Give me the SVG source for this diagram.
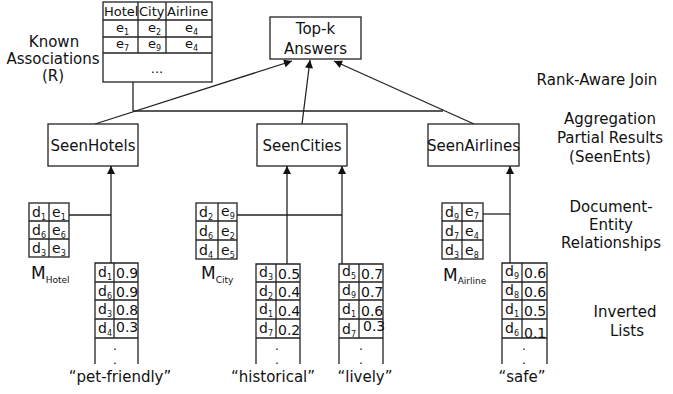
<svg xmlns="http://www.w3.org/2000/svg" width="673" height="394" viewBox="0 0 673 394">
<style>
text{font-family:"DejaVu Sans","Liberation Sans",sans-serif;fill:#111}
.box{fill:#fff;stroke:#222;stroke-width:1.3}
.ln{fill:none;stroke:#222;stroke-width:1.3}
.lbl{font-size:15px;text-anchor:middle}
.node{font-size:15px;text-anchor:middle}
.cell{font-size:14px}
.sub{font-size:8px}
.hdr{font-size:13px}
.q{font-size:15px;text-anchor:middle}
.dot{font-size:12px;text-anchor:middle}
</style>
<defs>
<marker id="ah" viewBox="0 0 10 10" refX="10" refY="5" markerWidth="10" markerHeight="8" markerUnits="userSpaceOnUse" orient="auto">
<path d="M0,0 L10,5 L0,10 z" fill="#111"/>
</marker>
</defs>

<g id="side-labels">
<text class="lbl" x="54" y="47">Known</text>
<text class="lbl" x="53" y="64">Associations</text>
<text class="lbl" x="53" y="81">(R)</text>
<text class="lbl" x="597" y="85" font-size="15.5px">Rank-Aware Join</text>
<text class="lbl" x="610" y="124">Aggregation</text>
<text class="lbl" x="610" y="143">Partial Results</text>
<text class="lbl" x="610" y="162">(SeenEnts)</text>
<text class="lbl" x="611" y="212">Document-</text>
<text class="lbl" x="611" y="230">Entity</text>
<text class="lbl" x="611" y="248">Relationships</text>
<text class="lbl" x="625" y="317">Inverted</text>
<text class="lbl" x="627" y="336">Lists</text>
</g>

<g id="connectors">
<line class="ln" x1="133" y1="82" x2="133" y2="111"/>
<line class="ln" x1="133" y1="111" x2="443" y2="111"/>
<line class="ln" x1="95" y1="124" x2="292" y2="61" marker-end="url(#ah)"/>
<line class="ln" x1="302" y1="124" x2="310" y2="60" marker-end="url(#ah)"/>
<line class="ln" x1="474" y1="124" x2="334" y2="61" marker-end="url(#ah)"/>
<line class="ln" x1="111" y1="263" x2="111" y2="166" marker-end="url(#ah)"/>
<line class="ln" x1="287" y1="264" x2="287" y2="166" marker-end="url(#ah)"/>
<line class="ln" x1="342" y1="264" x2="342" y2="166" marker-end="url(#ah)"/>
<line class="ln" x1="510" y1="263" x2="510" y2="166" marker-end="url(#ah)"/>
<line class="ln" x1="69" y1="215" x2="111" y2="215"/>
<line class="ln" x1="237" y1="215" x2="342" y2="215"/>
<line class="ln" x1="483" y1="214" x2="510" y2="214"/>
</g>

<g id="R">
<rect class="box" x="103" y="2" width="109" height="80"/>
<line class="ln" x1="103" y1="20" x2="212" y2="20"/>
<line class="ln" x1="103" y1="37" x2="212" y2="37"/>
<line class="ln" x1="103" y1="53" x2="212" y2="53"/>
<line class="ln" x1="138" y1="2" x2="138" y2="53"/>
<line class="ln" x1="166" y1="2" x2="166" y2="53"/>
<text class="hdr" x="104" y="16">Hotel</text>
<text class="hdr" x="139" y="16">City</text>
<text class="hdr" x="167" y="16">Airline</text>
<text class="hdr" x="116" y="32">e<tspan class="sub" dy="3">1</tspan></text>
<text class="hdr" x="148" y="32">e<tspan class="sub" dy="3">2</tspan></text>
<text class="hdr" x="185" y="32">e<tspan class="sub" dy="3">4</tspan></text>
<text class="hdr" x="116" y="48">e<tspan class="sub" dy="3">7</tspan></text>
<text class="hdr" x="148" y="48">e<tspan class="sub" dy="3">9</tspan></text>
<text class="hdr" x="185" y="48">e<tspan class="sub" dy="3">4</tspan></text>
<text class="hdr" x="157" y="73" text-anchor="middle">...</text>
</g>

<g id="topk">
<rect class="box" x="270" y="17" width="91" height="42"/>
<text class="node" x="315.5" y="34">Top-k</text>
<text class="node" x="315.5" y="54">Answers</text>
</g>

<g id="SeenHotels">
<rect class="box" x="48" y="124" width="90" height="42"/>
<text class="node" x="93" y="151">SeenHotels</text>
</g>
<g id="SeenCities">
<rect class="box" x="257" y="124" width="90" height="42"/>
<text class="node" x="302" y="151">SeenCities</text>
</g>
<g id="SeenAirlines">
<rect class="box" x="428" y="124" width="91" height="42"/>
<text class="node" x="473.5" y="151" font-size="14px">SeenAirlines</text>
</g>

<g id="MHotel">
<rect class="box" x="29" y="203" width="40" height="54"/>
<line class="ln" x1="29" y1="221" x2="69" y2="221"/>
<line class="ln" x1="29" y1="239" x2="69" y2="239"/>
<line class="ln" x1="49" y1="203" x2="49" y2="257"/>
<text class="cell" x="32" y="217">d<tspan class="sub" dy="3">1</tspan></text>
<text class="cell" x="52" y="217">e<tspan class="sub" dy="3">1</tspan></text>
<text class="cell" x="32" y="235">d<tspan class="sub" dy="3">6</tspan></text>
<text class="cell" x="52" y="235">e<tspan class="sub" dy="3">6</tspan></text>
<text class="cell" x="32" y="253">d<tspan class="sub" dy="3">3</tspan></text>
<text class="cell" x="52" y="253">e<tspan class="sub" dy="3">3</tspan></text>
<text x="31" y="279" font-size="17px">M<tspan font-size="9px" dy="4">Hotel</tspan></text>
</g>

<g id="MCity">
<rect class="box" x="196" y="203" width="41" height="56"/>
<line class="ln" x1="196" y1="221" x2="237" y2="221"/>
<line class="ln" x1="196" y1="240" x2="237" y2="240"/>
<line class="ln" x1="218" y1="203" x2="218" y2="259"/>
<text class="cell" x="199" y="217">d<tspan class="sub" dy="3">2</tspan></text>
<text class="cell" x="221" y="216">e<tspan class="sub" dy="3">9</tspan></text>
<text class="cell" x="199" y="236">d<tspan class="sub" dy="3">6</tspan></text>
<text class="cell" x="221" y="236">e<tspan class="sub" dy="3">2</tspan></text>
<text class="cell" x="199" y="255">d<tspan class="sub" dy="3">4</tspan></text>
<text class="cell" x="221" y="255">e<tspan class="sub" dy="3">5</tspan></text>
<text x="201" y="279" font-size="17px">M<tspan font-size="9px" dy="4">City</tspan></text>
</g>

<g id="MAirline">
<rect class="box" x="442" y="203" width="41" height="56"/>
<line class="ln" x1="442" y1="221" x2="483" y2="221"/>
<line class="ln" x1="442" y1="240" x2="483" y2="240"/>
<line class="ln" x1="462" y1="203" x2="462" y2="259"/>
<text class="cell" x="445" y="217">d<tspan class="sub" dy="3">9</tspan></text>
<text class="cell" x="465" y="216">e<tspan class="sub" dy="3">7</tspan></text>
<text class="cell" x="445" y="236">d<tspan class="sub" dy="3">7</tspan></text>
<text class="cell" x="465" y="236">e<tspan class="sub" dy="3">4</tspan></text>
<text class="cell" x="445" y="255">d<tspan class="sub" dy="3">3</tspan></text>
<text class="cell" x="465" y="255">e<tspan class="sub" dy="3">8</tspan></text>
<text x="443" y="281" font-size="17px">M<tspan font-size="9px" dy="3">Airline</tspan></text>
</g>

<g id="list-petfriendly">
<path class="ln" d="M95,364 V263 H138 V364"/>
<line class="ln" x1="95" y1="282" x2="138" y2="282"/>
<line class="ln" x1="95" y1="300" x2="138" y2="300"/>
<line class="ln" x1="95" y1="319" x2="138" y2="319"/>
<line class="ln" x1="95" y1="338" x2="138" y2="338"/>
<line class="ln" x1="114" y1="263" x2="114" y2="338"/>
<text class="cell" x="98" y="277">d<tspan class="sub" dy="3">1</tspan></text>
<text class="cell" x="116" y="278">0.9</text>
<text class="cell" x="98" y="296">d<tspan class="sub" dy="3">6</tspan></text>
<text class="cell" x="116" y="297">0.9</text>
<text class="cell" x="98" y="314">d<tspan class="sub" dy="3">3</tspan></text>
<text class="cell" x="116" y="315">0.8</text>
<text class="cell" x="98" y="333">d<tspan class="sub" dy="3">4</tspan></text>
<text class="cell" x="116" y="332">0.3</text>
<text class="dot" x="115" y="350">.</text>
<text class="dot" x="115" y="364">.</text>
<text class="q" x="120" y="382">“pet-friendly”</text>
</g>

<g id="list-historical">
<path class="ln" d="M256,364 V264 H300 V364"/>
<line class="ln" x1="256" y1="282" x2="300" y2="282"/>
<line class="ln" x1="256" y1="300" x2="300" y2="300"/>
<line class="ln" x1="256" y1="319" x2="300" y2="319"/>
<line class="ln" x1="256" y1="338" x2="300" y2="338"/>
<line class="ln" x1="276" y1="264" x2="276" y2="338"/>
<text class="cell" x="259" y="277">d<tspan class="sub" dy="3">3</tspan></text>
<text class="cell" x="278" y="279">0.5</text>
<text class="cell" x="259" y="296">d<tspan class="sub" dy="3">2</tspan></text>
<text class="cell" x="278" y="297">0.4</text>
<text class="cell" x="259" y="314">d<tspan class="sub" dy="3">1</tspan></text>
<text class="cell" x="278" y="316">0.4</text>
<text class="cell" x="259" y="333">d<tspan class="sub" dy="3">7</tspan></text>
<text class="cell" x="278" y="335">0.2</text>
<text class="dot" x="277" y="350">.</text>
<text class="dot" x="277" y="364">.</text>
<text class="q" x="273" y="382">“historical”</text>
</g>

<g id="list-lively">
<path class="ln" d="M339,364 V264 H383 V364"/>
<line class="ln" x1="339" y1="282" x2="383" y2="282"/>
<line class="ln" x1="339" y1="300" x2="383" y2="300"/>
<line class="ln" x1="339" y1="319" x2="383" y2="319"/>
<line class="ln" x1="339" y1="338" x2="383" y2="338"/>
<line class="ln" x1="359" y1="264" x2="359" y2="338"/>
<text class="cell" x="342" y="276">d<tspan class="sub" dy="3">5</tspan></text>
<text class="cell" x="361" y="279">0.7</text>
<text class="cell" x="342" y="295">d<tspan class="sub" dy="3">9</tspan></text>
<text class="cell" x="361" y="297">0.7</text>
<text class="cell" x="342" y="314">d<tspan class="sub" dy="3">1</tspan></text>
<text class="cell" x="361" y="316">0.6</text>
<text class="cell" x="342" y="334">d<tspan class="sub" dy="3">7</tspan></text>
<text class="cell" x="363" y="331">0.3</text>
<text class="dot" x="361" y="350">.</text>
<text class="dot" x="361" y="364">.</text>
<text class="q" x="365" y="382">“lively”</text>
</g>

<g id="list-safe">
<path class="ln" d="M502,364 V263 H547 V364"/>
<line class="ln" x1="502" y1="282" x2="547" y2="282"/>
<line class="ln" x1="502" y1="300" x2="547" y2="300"/>
<line class="ln" x1="502" y1="319" x2="547" y2="319"/>
<line class="ln" x1="502" y1="338" x2="547" y2="338"/>
<line class="ln" x1="522" y1="263" x2="522" y2="338"/>
<text class="cell" x="505" y="276">d<tspan class="sub" dy="3">9</tspan></text>
<text class="cell" x="524" y="278">0.6</text>
<text class="cell" x="505" y="295">d<tspan class="sub" dy="3">8</tspan></text>
<text class="cell" x="524" y="297">0.6</text>
<text class="cell" x="505" y="314">d<tspan class="sub" dy="3">1</tspan></text>
<text class="cell" x="524" y="316">0.5</text>
<text class="cell" x="505" y="333">d<tspan class="sub" dy="3">6</tspan></text>
<text class="cell" x="524" y="338">0.1</text>
<text class="dot" x="524" y="350">.</text>
<text class="dot" x="524" y="364">.</text>
<text class="q" x="522" y="382">“safe”</text>
</g>
</svg>
